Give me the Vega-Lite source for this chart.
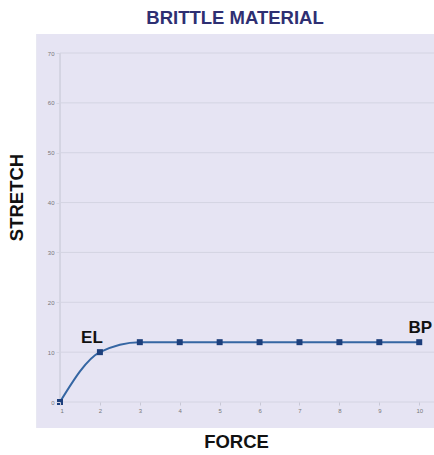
{
  "$schema": "https://vega.github.io/schema/vega-lite/v6.json",
  "width": 374,
  "height": 349,
  "autosize": "none",
  "padding": {"left": 60, "top": 53, "right": 0, "bottom": 53},
  "background": "white",
  "config": {"view": {"stroke": null}},
  "title": {"text": "BRITTLE MATERIAL", "font": "Liberation Sans", "fontSize": 18.5, "fontWeight": "bold", "color": "#2e2f72", "anchor": "middle", "dx": -12, "offset": 7},
  "datasets": {
    "points": [
      {"force": 1, "stretch": 0, "label": ""},
      {"force": 2, "stretch": 10, "label": "EL"},
      {"force": 3, "stretch": 12, "label": ""},
      {"force": 4, "stretch": 12, "label": ""},
      {"force": 5, "stretch": 12, "label": ""},
      {"force": 6, "stretch": 12, "label": ""},
      {"force": 7, "stretch": 12, "label": ""},
      {"force": 8, "stretch": 12, "label": ""},
      {"force": 9, "stretch": 12, "label": ""},
      {"force": 10, "stretch": 12, "label": "BP"}
    ],
    "grid": [
      {"level": 0}, {"level": 10}, {"level": 20}, {"level": 30},
      {"level": 40}, {"level": 50}, {"level": 60}, {"level": 70}
    ]
  },
  "data": {"name": "points"},
  "layer": [
    {
      "mark": {"type": "rect", "color": "#e6e4f3", "clip": false},
      "encoding": {
        "x": {"datum": 0.42, "type": "quantitative", "scale": {"domain": [1, 10.37]}},
        "x2": {"datum": 10.6},
        "y": {"datum": -5.2, "type": "quantitative", "scale": {"domain": [0, 70]}},
        "y2": {"datum": 73.8}
      }
    },
    {
      "data": {"name": "grid"},
      "mark": {"type": "rule", "color": "#d4d4e2", "strokeWidth": 1, "clip": false},
      "encoding": {
        "y": {"field": "level", "type": "quantitative"},
        "x": {"datum": 1, "type": "quantitative"},
        "x2": {"datum": 10.6}
      }
    },
    {
      "mark": {"type": "rule", "color": "#d4d4e2", "strokeWidth": 1},
      "encoding": {
        "x": {"datum": 1, "type": "quantitative"},
        "y": {"datum": 0, "type": "quantitative"},
        "y2": {"datum": 70}
      }
    },
    {
      "mark": {"type": "line", "interpolate": "monotone", "color": "#3566a3", "strokeWidth": 2},
      "encoding": {
        "x": {"field": "force", "type": "quantitative", "scale": {"domain": [1, 10.37], "nice": false, "zero": false},
          "axis": {"zindex": 1, "values": [1,2,3,4,5,6,7,8,9,10], "title": "FORCE", "titleFont": "Liberation Sans", "titleFontSize": 18.5, "titleFontWeight": "bold", "titleColor": "#111111", "titleX": 176, "titleY": 30, "labelFontSize": 6, "labelColor": "#777777", "labelPadding": 2, "domain": false, "grid": false, "tickSize": 3, "tickColor": "#c8c8d6"}},
        "y": {"field": "stretch", "type": "quantitative", "scale": {"domain": [0, 70], "nice": false},
          "axis": {"zindex": 1, "values": [0,10,20,30,40,50,60,70], "title": "STRETCH", "titleFont": "Liberation Sans", "titleFontSize": 18.5, "titleFontWeight": "bold", "titleColor": "#111111", "titleX": -34, "titleY": 144, "labelFontSize": 6, "labelColor": "#777777", "labelPadding": 2, "domain": false, "grid": false, "tickSize": 4, "tickColor": "#d4d4e2"}}
      }
    },
    {
      "mark": {"type": "square", "color": "#1d3f7c", "opacity": 1, "size": 36},
      "encoding": {
        "x": {"field": "force", "type": "quantitative"},
        "y": {"field": "stretch", "type": "quantitative"}
      }
    },
    {
      "transform": [{"filter": "datum.label == 'EL'"}],
      "mark": {"type": "text", "font": "Liberation Sans", "fontSize": 17, "fontWeight": "bold", "color": "#111111", "dy": -14, "dx": -8, "clip": false},
      "encoding": {
        "x": {"field": "force", "type": "quantitative"},
        "y": {"field": "stretch", "type": "quantitative"},
        "text": {"field": "label"}
      }
    },
    {
      "transform": [{"filter": "datum.label == 'BP'"}],
      "mark": {"type": "text", "font": "Liberation Sans", "fontSize": 17, "fontWeight": "bold", "color": "#111111", "dy": -14, "dx": 1, "clip": false},
      "encoding": {
        "x": {"field": "force", "type": "quantitative"},
        "y": {"field": "stretch", "type": "quantitative"},
        "text": {"field": "label"}
      }
    }
  ]
}
